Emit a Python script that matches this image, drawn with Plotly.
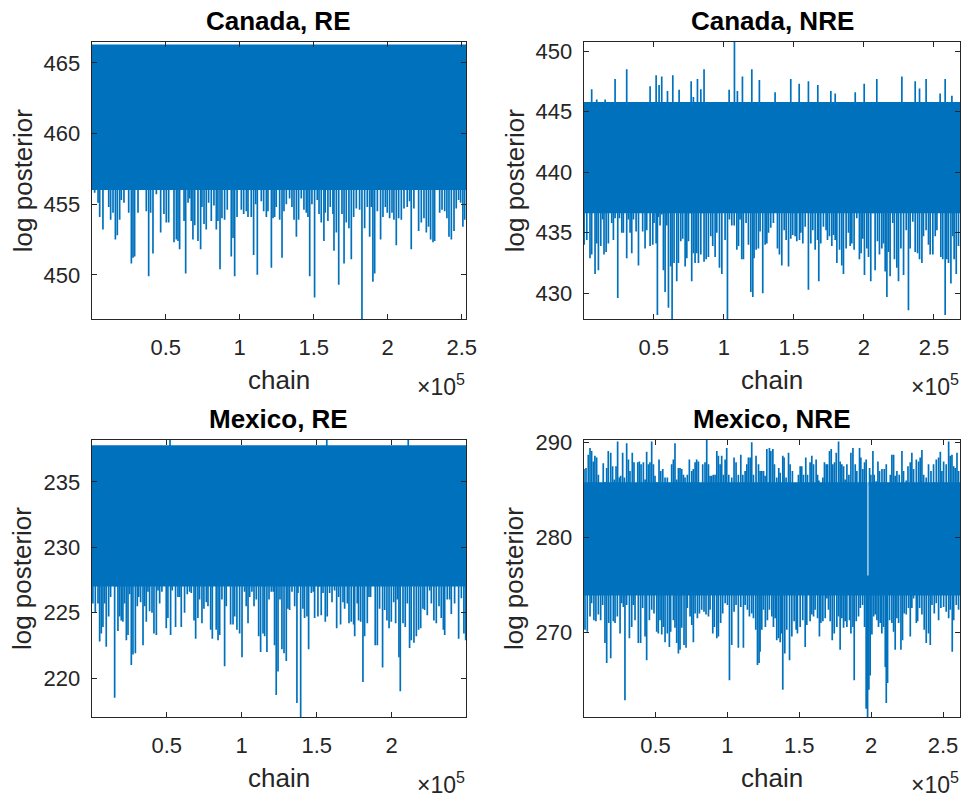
import plotly.graph_objects as go

BLUE = "#0072BD"
AX = "#262626"
FONT = "Liberation Sans, Arial, Helvetica, sans-serif"

# ---------------- data (chain index in thousands, log posterior) ----------------
# Canada, RE
ca_re_n = 252.9
ca_re_core = (456.0, 466.3)
ca_re_down = [(2.0,455.8),(4.3,455.1),(5.4,454.1),(7.6,453.2),(11.5,454.8),(12.8,453.9),(14.4,454.4),(16.0,452.5),(17.3,452.8),(18.9,453.9),(20.0,455.3),(21.8,455.1),(25.0,454.4),(26.8,450.8),(27.9,451.2),(29.0,451.3),(31.3,454.4),(36.9,454.5),(38.5,449.9),(39.8,454.4),(41.4,451.5),(43.7,455.7),(46.6,453.0),(48.8,454.3),(50.4,453.7),(52.0,453.7),(55.6,452.3),(57.2,452.5),(58.3,452.4),(59.4,451.8),(61.0,456.1),(62.4,453.8),(63.5,450.1),(65.1,455.1),(66.2,455.4),(67.3,453.8),(68.4,452.5),(69.6,453.5),(71.8,452.4),(73.6,451.8),(74.5,454.8),(75.9,453.6),(77.4,453.2),(79.0,455.1),(80.8,453.8),(82.6,454.9),(84.2,453.2),(85.3,453.8),(86.7,450.4),(88.0,454.0),(89.8,453.9),(91.6,454.6),(94.3,451.3),(95.5,452.6),(96.6,449.9),(98.2,454.1),(101.1,454.6),(102.7,454.3),(104.5,454.5),(105.6,454.1),(107.8,454.1),(109.4,451.4),(110.8,455.0),(111.9,450.0),(114.6,455.2),(116.2,454.5),(118.0,454.1),(119.1,454.5),(121.4,450.5),(122.5,454.0),(123.6,454.1),(124.7,454.8),(127.0,453.9),(128.6,451.2),(129.9,454.5),(131.5,455.0),(133.7,455.4),(135.3,454.8),(136.7,453.9),(138.3,452.7),(139.8,453.9),(141.6,455.4),(143.4,454.6),(145.0,454.4),(146.1,454.1),(147.3,449.9),(148.8,455.0),(150.6,448.4),(152.4,455.3),(153.6,454.3),(155.1,453.7),(156.9,452.4),(157.8,454.4),(159.6,453.8),(161.2,454.8),(163.0,454.3),(163.7,451.7),(165.3,453.0),(166.9,449.3),(169.1,454.3),(170.5,450.8),(172.0,453.7),(173.8,453.3),(175.4,451.1),(177.0,454.1),(178.8,454.7),(181.0,454.6),(182.6,446.5),(184.4,453.3),(186.2,454.8),(187.8,452.7),(188.9,454.8),(190.0,449.5),(191.2,450.1),(193.0,454.5),(195.2,452.5),(196.8,454.1),(198.4,454.8),(199.7,454.4),(201.3,454.0),(202.9,454.4),(204.2,453.9),(205.8,452.1),(207.4,454.0),(209.2,453.9),(211.0,454.7),(213.2,454.8),(214.8,455.2),(215.9,451.8),(217.7,454.7),(220.9,453.1),(222.7,453.7),(224.5,454.0),(226.1,453.0),(227.6,453.4),(229.0,452.5),(230.6,452.3),(231.7,452.4),(235.1,454.4),(236.7,454.6),(238.5,454.5),(240.0,454.0),(241.4,452.7),(243.0,452.5),(244.8,453.1),(246.3,454.7),(247.9,455.3),(249.3,455.1),(250.8,453.4),(252.0,453.9)]
ca_re_up = []

# Canada, NRE
ca_nre_n = 268.8
ca_nre_core = (436.6, 445.8)
ca_nre_down = [(0.3,434.0),(2.2,434.4),(4.5,432.9),(5.7,433.2),(8.1,431.6),(9.3,434.1),(10.5,431.9),(12.2,433.9),(13.6,436.1),(14.5,433.2),(16.0,433.4),(17.6,434.1),(20.0,435.8),(21.2,434.4),(22.4,436.2),(24.3,429.6),(25.5,436.2),(27.2,435.0),(28.3,435.0),(30.7,432.9),(31.9,436.1),(33.1,435.0),(34.3,433.3),(35.5,436.1),(37.4,435.1),(39.1,432.3),(40.7,437.4),(42.1,435.1),(43.8,433.7),(45.0,435.2),(46.2,437.6),(47.4,433.9),(49.3,434.0),(50.2,435.8),(51.7,434.1),(52.6,428.2),(53.3,436.3),(54.5,435.6),(55.7,436.5),(56.9,431.9),(58.1,430.1),(59.3,435.6),(60.5,428.8),(62.1,432.2),(63.1,427.5),(64.5,432.5),(66.4,431.0),(67.6,432.5),(69.3,434.3),(70.7,434.5),(72.4,432.2),(73.6,432.9),(74.8,434.3),(75.9,436.6),(77.1,431.0),(78.3,433.3),(79.5,432.5),(80.7,433.3),(81.9,432.5),(83.6,433.2),(85.0,436.6),(85.9,432.6),(87.4,432.8),(89.0,433.0),(90.7,434.7),(92.1,433.9),(93.8,433.0),(95.0,435.0),(96.9,432.1),(98.6,431.6),(99.7,437.0),(100.9,434.4),(102.6,427.5),(104.0,436.1),(105.7,435.6),(107.4,435.6),(109.3,433.6),(110.5,433.9),(111.6,436.1),(112.8,432.8),(114.0,432.8),(115.9,435.8),(117.6,434.0),(119.3,430.1),(120.7,429.7),(121.6,432.9),(123.1,433.6),(124.7,433.7),(125.9,435.1),(127.8,430.0),(129.5,434.0),(130.7,434.1),(131.9,435.0),(133.5,435.4),(135.4,435.8),(136.6,437.3),(138.3,433.7),(139.7,433.2),(141.4,432.3),(143.1,435.2),(144.5,434.4),(146.2,432.2),(147.8,434.5),(149.2,434.8),(150.9,434.7),(152.1,434.3),(154.0,434.4),(155.0,435.0),(156.4,434.1),(158.1,435.5),(160.4,430.3),(162.1,434.1),(163.5,435.2),(165.2,433.6),(166.9,434.4),(167.8,431.0),(169.2,434.1),(171.1,435.5),(173.0,435.2),(174.0,434.4),(175.4,434.7),(177.1,433.9),(178.3,434.8),(179.5,434.4),(180.7,432.5),(182.6,433.6),(184.2,432.3),(185.4,431.6),(187.3,433.7),(189.0,435.0),(190.2,433.9),(191.4,434.1),(193.0,433.6),(194.9,436.2),(196.8,432.8),(198.0,433.3),(199.2,434.5),(200.4,431.5),(202.1,433.7),(203.3,433.0),(204.9,431.0),(206.4,436.6),(208.0,431.9),(209.7,434.3),(211.1,433.2),(212.8,433.7),(214.0,434.1),(215.2,431.8),(216.4,429.7),(217.6,433.4),(218.7,431.4),(220.6,435.8),(221.8,432.8),(223.5,432.1),(224.7,431.0),(226.4,433.7),(228.3,431.5),(230.2,435.2),(231.8,428.6),(233.0,433.7),(234.9,435.9),(236.6,433.4),(238.3,433.3),(239.7,432.8),(241.4,432.5),(242.5,434.7),(244.4,435.2),(246.1,434.0),(247.3,433.2),(249.2,433.2),(250.9,434.7),(252.1,435.2),(253.3,437.3),(254.9,433.0),(256.3,432.8),(258.0,428.2),(259.2,432.8),(260.4,432.5),(262.1,430.8),(263.5,434.7),(264.4,432.8),(265.9,431.6),(267.5,433.9)]
ca_nre_up = [(5.7,446.85),(9.3,446.0),(15.3,446.0),(22.4,447.7),(30.7,448.5),(47.4,447.1),(51.7,448.0),(53.8,447.2),(55.7,447.9),(59.8,446.7),(63.6,448.0),(68.1,446.8),(76.7,447.5),(78.3,446.2),(81.2,447.7),(83.6,446.85),(85.9,448.5),(103.8,446.8),(107.6,451.0),(109.7,446.7),(113.3,447.9),(120.0,448.5),(125.4,447.6),(136.6,446.6),(147.8,447.7),(153.8,447.3),(160.4,447.5),(167.1,447.2),(176.4,446.7),(179.5,446.5),(193.8,446.6),(200.2,447.3),(209.2,447.7),(227.1,447.9),(236.6,447.5),(239.7,446.9),(244.4,447.7),(254.4,446.5),(258.0,447.7),(262.8,446.3)]

# Mexico, RE
mx_re_n = 249.5
mx_re_core = (227.0, 237.8)
mx_re_down = [(0.8,225.7),(2.4,225.0),(4.2,225.7),(5.3,222.8),(6.4,223.4),(7.5,223.9),(8.6,225.7),(9.7,222.4),(11.3,224.7),(12.6,226.2),(14.2,227.5),(15.3,218.5),(16.4,227.0),(17.5,223.6),(18.6,224.7),(19.7,224.4),(20.8,224.3),(21.9,225.7),(23.1,222.9),(24.2,223.3),(25.3,226.4),(26.4,221.0),(27.5,221.8),(29.1,221.9),(30.4,225.5),(31.3,226.2),(32.6,225.8),(34.2,222.5),(35.3,225.5),(36.4,224.3),(37.5,226.6),(38.6,225.1),(40.2,225.0),(41.5,223.4),(43.1,223.3),(44.2,226.7),(45.3,225.7),(46.8,226.6),(48.2,227.5),(49.7,223.8),(50.8,224.6),(52.6,223.3),(53.7,226.7),(54.8,227.1),(55.9,223.9),(57.5,226.2),(58.6,226.2),(59.7,223.9),(61.9,225.0),(63.7,226.4),(65.3,226.6),(66.4,226.5),(68.2,224.4),(69.3,223.0),(70.8,224.6),(71.9,226.0),(73.5,224.2),(74.8,225.3),(76.4,225.8),(77.5,225.5),(79.3,223.7),(80.4,223.0),(81.5,227.2),(83.0,223.7),(84.2,222.9),(85.3,223.3),(86.8,226.0),(88.6,220.9),(89.7,225.5),(91.3,227.5),(92.6,224.1),(94.2,224.1),(95.3,224.7),(96.8,223.7),(98.6,223.4),(100.2,221.6),(101.9,226.6),(103.0,225.5),(104.2,224.2),(105.3,226.2),(106.8,226.6),(108.2,225.5),(109.7,226.0),(111.3,223.2),(112.6,222.0),(114.2,223.4),(115.3,223.2),(116.8,222.0),(118.2,226.0),(119.7,226.6),(121.0,226.6),(121.9,222.5),(123.0,218.7),(124.2,220.5),(125.5,226.0),(126.8,222.2),(128.2,221.9),(129.7,221.3),(130.8,225.3),(131.9,225.2),(133.5,226.6),(135.3,225.5),(136.8,218.1),(137.5,226.5),(139.3,216.8),(140.8,225.3),(141.9,224.6),(143.5,224.7),(144.6,222.2),(146.4,226.5),(147.7,226.6),(148.6,224.6),(150.8,224.7),(151.9,227.0),(153.0,224.8),(154.2,226.5),(155.7,224.3),(157.0,224.7),(158.6,226.5),(160.2,225.8),(161.9,226.7),(163.3,223.8),(164.6,226.2),(165.9,224.1),(167.5,225.8),(168.6,225.3),(170.4,225.7),(171.5,224.2),(173.0,224.3),(174.6,224.1),(175.3,223.2),(177.0,225.7),(177.9,224.4),(179.3,224.3),(180.8,219.7),(181.9,223.2),(183.7,224.2),(184.8,226.2),(185.9,226.2),(187.5,227.9),(189.0,222.5),(190.4,222.5),(191.9,225.3),(193.9,220.8),(195.3,225.2),(196.8,224.4),(198.2,223.8),(199.7,224.3),(201.3,225.8),(202.6,224.2),(203.7,226.0),(204.8,221.6),(205.7,219.0),(207.5,224.2),(209.0,223.9),(210.4,225.7),(211.9,222.3),(213.0,222.9),(214.8,222.7),(216.4,223.2),(217.9,223.7),(219.3,223.8),(220.8,225.3),(221.9,225.2),(223.7,224.8),(225.3,226.7),(226.4,225.7),(228.1,224.4),(229.7,224.2),(231.5,225.5),(233.0,224.6),(234.4,223.7),(235.3,223.3),(237.0,226.0),(238.6,226.0),(239.7,224.9),(241.9,225.7),(243.7,227.5),(244.6,223.0),(246.4,226.1),(248.1,223.4),(249.3,222.9)]
mx_re_up = [(52.2,238.2),(156.7,238.2),(211.0,238.2)]

# Mexico, NRE
mx_nre_n = 262.0
mx_nre_core = (273.9, 285.8)
mx_nre_gap = (197.4, 198.1, 276.0)  # column where the chain stayed low
mx_nre_down = [(0.9,270.3),(2.5,270.1),(4.4,271.7),(5.5,273.1),(7.1,271.3),(8.5,271.2),(10.2,271.9),(11.8,271.3),(13.2,272.9),(14.8,268.9),(16.0,266.8),(17.4,271.0),(18.8,267.3),(20.6,271.2),(21.8,271.0),(23.4,271.7),(25.3,269.9),(26.4,273.1),(27.6,272.7),(28.7,262.9),(29.9,272.9),(31.8,269.4),(33.4,270.6),(34.5,272.9),(35.7,271.3),(38.0,268.9),(39.6,268.9),(41.0,272.6),(42.7,269.6),(43.8,267.1),(45.7,271.3),(47.3,272.4),(48.9,272.0),(50.8,270.1),(51.9,269.9),(53.1,271.3),(54.3,269.8),(55.4,270.6),(56.6,269.0),(58.2,269.9),(59.6,268.5),(60.5,270.1),(62.4,271.3),(63.5,270.5),(64.7,268.9),(65.9,267.8),(67.0,268.2),(68.2,270.5),(69.8,268.7),(71.2,268.4),(72.1,272.6),(74.0,271.7),(75.2,270.8),(76.3,269.0),(77.5,272.0),(79.1,271.5),(80.5,272.0),(82.1,272.4),(83.7,272.2),(85.1,271.9),(86.8,271.7),(87.9,272.4),(89.8,269.9),(90.9,270.6),(92.6,269.4),(93.7,269.6),(95.3,271.0),(96.7,272.0),(98.4,273.1),(100.0,272.9),(101.4,265.0),(103.0,268.7),(104.6,272.2),(106.0,272.9),(107.6,268.4),(109.3,272.7),(111.1,268.4),(112.3,272.9),(113.9,272.4),(115.3,271.7),(116.9,272.0),(118.1,271.5),(119.7,270.3),(120.9,266.6),(122.0,266.8),(122.7,268.0),(123.9,270.3),(125.1,272.4),(126.4,270.6),(127.8,271.3),(129.2,272.4),(130.9,271.7),(132.0,270.6),(133.2,271.5),(134.3,269.2),(135.5,269.4),(136.7,269.0),(137.8,269.9),(138.5,264.0),(139.9,267.8),(141.3,270.3),(143.2,267.1),(144.8,269.6),(146.4,271.2),(147.8,270.3),(148.7,269.9),(150.6,270.6),(152.4,271.3),(154.1,268.5),(155.2,270.8),(157.5,271.2),(158.7,271.9),(159.9,271.7),(161.0,272.4),(162.7,271.5),(164.0,269.6),(165.0,271.0),(166.4,271.2),(168.0,271.5),(169.2,273.6),(170.3,272.4),(171.5,271.2),(172.9,269.2),(174.3,269.9),(176.1,270.6),(177.3,271.7),(178.4,268.2),(179.6,271.5),(180.8,270.5),(181.9,271.2),(183.1,270.6),(184.9,271.3),(185.9,269.9),(187.3,270.6),(188.2,265.0),(189.6,271.2),(191.2,271.7),(192.4,272.6),(194.0,272.9),(195.4,270.6),(196.5,262.0),(197.5,260.8),(198.4,264.0),(199.3,265.5),(200.5,269.8),(201.7,271.7),(202.8,271.9),(204.0,271.3),(205.1,270.6),(206.3,271.0),(207.4,269.9),(208.6,270.6),(209.8,266.4),(210.5,262.6),(211.4,264.7),(212.8,271.3),(214.4,271.0),(215.6,270.1),(216.7,268.2),(217.9,271.5),(219.1,271.0),(220.7,268.2),(221.8,269.2),(223.0,272.0),(224.4,271.9),(226.0,272.6),(227.2,269.6),(228.3,272.6),(229.5,273.6),(231.4,271.0),(232.3,271.2),(233.7,272.6),(235.3,271.9),(236.9,270.3),(238.3,268.9),(239.9,269.9),(241.1,268.7),(242.3,272.9),(243.9,272.0),(245.3,273.1),(246.9,271.3),(248.5,272.6),(250.4,272.7),(252.2,272.2),(253.9,271.5),(255.0,272.4),(256.4,268.0),(257.4,271.3),(259.2,272.9),(260.8,272.4)]
mx_nre_up = [(0.2,287.2),(1.6,287.3),(3.2,288.7),(4.4,289.4),(5.5,289.1),(6.7,288.0),(7.8,288.6),(9.0,288.4),(10.2,286.6),(11.8,285.6),(13.6,287.8),(14.8,285.8),(16.0,287.3),(17.1,289.1),(18.8,288.9),(20.1,287.5),(21.3,286.1),(22.5,287.5),(23.6,290.1),(24.8,286.3),(25.7,286.5),(27.1,288.9),(28.3,286.3),(29.9,289.9),(31.1,288.2),(32.2,287.0),(33.8,288.9),(35.0,287.9),(36.4,285.05),(37.6,287.9),(38.7,288.0),(39.9,287.7),(41.5,287.9),(42.7,286.1),(43.8,289.0),(45.0,287.7),(46.1,287.9),(47.3,290.1),(48.5,287.7),(49.6,286.5),(50.8,285.8),(52.4,288.2),(53.6,287.0),(55.0,287.2),(56.6,286.3),(58.2,286.3),(60.1,285.6),(61.2,287.7),(62.4,288.2),(63.5,289.9),(64.7,286.1),(65.9,287.3),(67.0,287.3),(68.2,287.2),(69.4,286.6),(70.5,286.3),(72.1,286.6),(73.5,288.2),(75.2,287.0),(76.3,287.2),(77.5,287.9),(78.6,288.2),(79.8,288.0),(81.4,285.2),(82.8,287.7),(84.4,287.9),(85.6,290.3),(86.8,287.7),(87.9,286.5),(89.1,286.5),(90.2,286.6),(91.4,286.6),(92.6,289.1),(93.7,288.6),(94.9,287.7),(96.0,288.6),(97.2,286.6),(98.4,288.2),(99.5,289.4),(100.9,286.6),(101.8,284.3),(103.0,286.3),(104.6,288.4),(106.0,287.9),(107.6,286.6),(109.3,288.7),(110.7,286.6),(112.3,287.0),(113.5,287.7),(114.6,288.4),(115.8,288.4),(116.9,290.0),(118.1,286.6),(119.9,288.6),(121.6,287.7),(122.7,287.0),(123.9,287.0),(125.1,287.0),(126.2,286.5),(127.4,289.3),(129.2,289.4),(130.2,289.1),(131.6,289.3),(132.7,287.7),(134.3,286.3),(135.7,287.3),(136.7,286.8),(138.5,288.6),(139.4,288.4),(140.8,286.3),(142.5,288.9),(143.6,287.7),(145.2,287.0),(146.6,285.2),(148.3,284.7),(149.4,286.6),(150.6,287.5),(151.7,287.5),(152.9,286.6),(154.5,288.4),(155.7,286.6),(157.5,287.9),(158.7,288.6),(159.9,287.7),(161.7,288.2),(162.7,286.6),(163.6,286.0),(165.0,285.2),(166.4,286.3),(167.5,287.9),(168.7,287.7),(169.6,287.7),(171.0,289.1),(172.2,289.3),(173.3,287.7),(174.5,287.9),(175.7,288.9),(177.3,290.1),(178.4,288.0),(179.6,287.7),(180.8,287.5),(181.9,286.1),(183.1,287.7),(184.5,286.6),(185.9,288.9),(187.3,289.4),(188.9,287.7),(190.0,287.0),(191.9,289.4),(192.8,288.4),(194.2,287.2),(195.4,287.9),(196.5,288.2),(198.9,287.3),(199.8,286.6),(201.2,289.1),(202.1,286.6),(203.5,285.9),(204.7,288.0),(205.8,287.0),(207.5,287.2),(209.1,287.2),(210.5,287.7),(212.1,285.4),(213.3,286.6),(214.4,288.7),(215.6,288.7),(216.7,286.5),(217.9,287.0),(219.5,286.6),(221.4,289.1),(222.5,287.0),(224.4,286.0),(225.6,287.5),(227.2,287.9),(228.3,288.9),(229.5,287.2),(231.4,288.2),(233.0,288.0),(234.1,288.4),(235.3,289.2),(236.5,286.6),(238.3,286.3),(239.9,287.7),(241.6,287.0),(243.4,287.7),(245.3,288.2),(246.9,288.4),(248.1,289.0),(249.2,287.0),(250.4,288.0),(252.2,287.7),(253.9,290.1),(255.0,288.6),(256.2,288.7),(257.4,287.5),(258.5,287.3),(259.7,288.9),(260.8,287.0)]

titles = ["Canada, RE", "Canada, NRE", "Mexico, RE", "Mexico, NRE"]
x_tickvals = [50, 100, 150, 200, 250]
x_ticktext = ["0.5", "1", "1.5", "2", "2.5"]
y_ticks = [[450, 455, 460, 465], [430, 435, 440, 445, 450], [220, 225, 230, 235], [270, 280, 290]]
y_ranges = [[446.85, 466.5], [427.85, 450.77], [217.0, 238.24], [261.1, 290.3]]

panels = [
    (ca_re_n, ca_re_core, ca_re_down, ca_re_up, None),
    (ca_nre_n, ca_nre_core, ca_nre_down, ca_nre_up, None),
    (mx_re_n, mx_re_core, mx_re_down, mx_re_up, None),
    (mx_nre_n, mx_nre_core, mx_nre_down, mx_nre_up, mx_nre_gap),
]

# ---------------- layout geometry (pixels) ----------------
W, H = 964, 797
boxes = [  # left, right, top, bottom in px
    (91.7, 466.0, 41.7, 319.3),
    (583.7, 960.3, 41.7, 319.3),
    (91.7, 466.0, 439.5, 717.3),
    (583.7, 960.3, 439.5, 717.3),
]

fig = go.Figure()
layout = {}
annotations = []

for i, (n, core, down, up, gap) in enumerate(panels):
    xa = "x" if i == 0 else f"x{i+1}"
    ya = "y" if i == 0 else f"y{i+1}"
    lo, hi = core
    # dense core of the chain trace
    if gap is None:
        bx = [0, n, n, 0, 0]
        by = [lo, lo, hi, hi, lo]
    else:
        g0, g1, gtop = gap
        bx = [0, n, n, g1, g1, g0, g0, 0, 0]
        by = [lo, lo, hi, hi, gtop, gtop, hi, hi, lo]
    fig.add_trace(go.Scatter(x=bx, y=by, mode="lines", fill="toself", fillcolor=BLUE,
                             line=dict(width=0, color=BLUE), xaxis=xa, yaxis=ya,
                             hoverinfo="skip", showlegend=False))
    # excursions
    sx, sy = [], []
    for k, v in down:
        sx += [k, k, None]
        sy += [v, lo + 0.3, None]
    for k, v in up:
        sx += [k, k, None]
        sy += [hi - 0.3, v, None]
    fig.add_trace(go.Scatter(x=sx, y=sy, mode="lines", line=dict(width=1.7, color=BLUE),
                             xaxis=xa, yaxis=ya, hoverinfo="skip", showlegend=False,
                             connectgaps=False))

    l, r, t, b = boxes[i]
    common = dict(showline=True, linecolor=AX, linewidth=1, mirror="ticks", ticks="inside",
                  ticklen=5, tickwidth=1, tickcolor=AX, showgrid=False, zeroline=False,
                  automargin=False, tickfont=dict(family=FONT, size=22, color=AX))
    layout["xaxis" if i == 0 else f"xaxis{i+1}"] = dict(
        common, domain=[l / W, r / W], range=[0, n], anchor=ya,
        tickvals=x_tickvals, ticktext=x_ticktext, ticklabelstandoff=8)
    layout["yaxis" if i == 0 else f"yaxis{i+1}"] = dict(
        common, domain=[1 - b / H, 1 - t / H], range=y_ranges[i], anchor=xa,
        tickvals=y_ticks[i], ticklabelstandoff=6)

    cx = (l + r) / 2
    annotations.append(dict(text=f"<b>{titles[i]}</b>", x=cx / W, y=1 - (t - 4) / H,
                            xref="paper", yref="paper", xanchor="center", yanchor="bottom",
                            showarrow=False, font=dict(family=FONT, size=26, color="black")))
    annotations.append(dict(text="chain", x=cx / W, y=1 - (b + 61) / H,
                            xref="paper", yref="paper", xanchor="center", yanchor="middle",
                            showarrow=False, font=dict(family=FONT, size=26, color=AX)))
    annotations.append(dict(text="log posterior", x=(l - 69) / W, y=1 - (t + b) / 2 / H,
                            xref="paper", yref="paper", xanchor="center", yanchor="middle",
                            textangle=-90, showarrow=False,
                            font=dict(family=FONT, size=26, color=AX)))
    annotations.append(dict(text="×10<sup>5</sup>", x=(r + 1) / W, y=1 - (b + 66) / H,
                            xref="paper", yref="paper", xanchor="right", yanchor="middle",
                            showarrow=False, font=dict(family=FONT, size=23, color=AX)))

fig.update_layout(width=W, height=H, margin=dict(l=0, r=0, t=0, b=0, autoexpand=False),
                  paper_bgcolor="white", plot_bgcolor="white",
                  annotations=annotations, showlegend=False, **layout)

fig.write_html("out.html")
